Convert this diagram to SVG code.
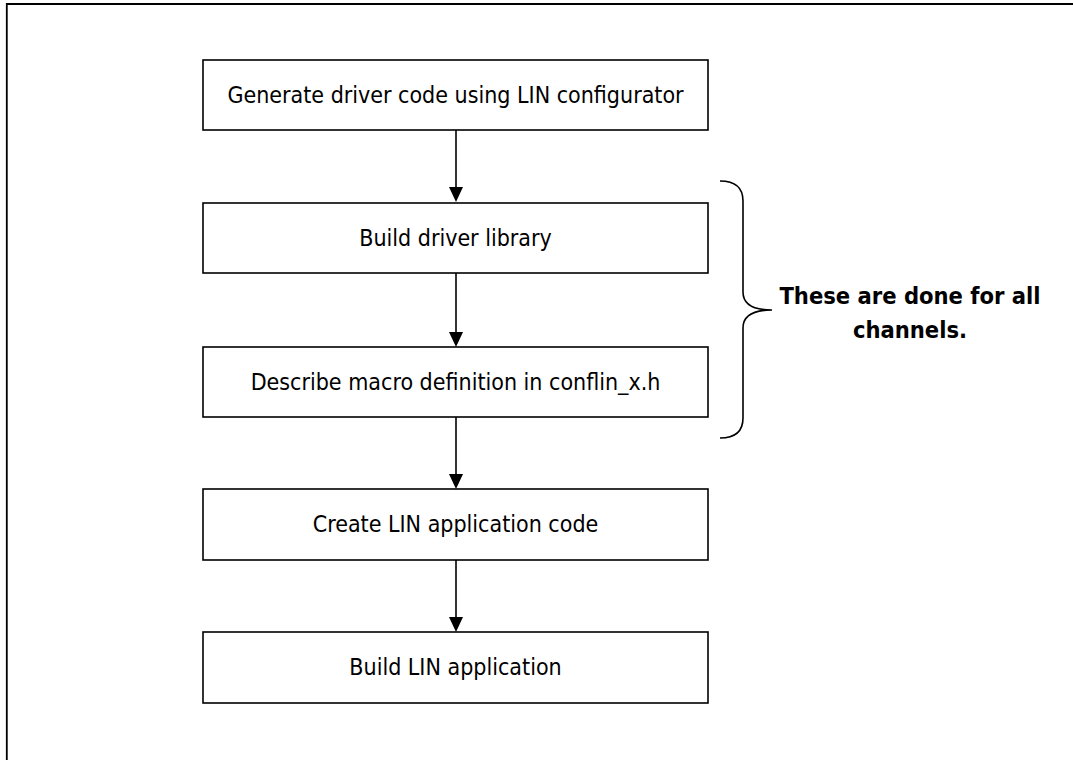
<svg xmlns="http://www.w3.org/2000/svg" width="1073" height="760" viewBox="0 0 1073 760">
<defs>
<style>
.box{fill:#fff;stroke:#000;stroke-width:1.6}
.lbl{font-family:"DejaVu Sans Condensed","DejaVu Sans",sans-serif;font-size:23px;fill:#000;text-anchor:middle}
.note{font-family:"DejaVu Sans Condensed","DejaVu Sans",sans-serif;font-size:23.5px;font-weight:bold;fill:#000;text-anchor:middle}
.edge{stroke:#000;stroke-width:1.6;fill:none}
</style>
</defs>
<rect width="1073" height="760" fill="#fff"/>
<path d="M6.8,760 V4 H1073" fill="none" stroke="#000" stroke-width="1.8"/>
<g id="n1"><rect class="box" x="203" y="60" width="505" height="70"/><text class="lbl" x="455.5" y="103">Generate driver code using LIN configurator</text></g>
<g id="n2"><rect class="box" x="203" y="203" width="505" height="70"/><text class="lbl" x="455.5" y="246">Build driver library</text></g>
<g id="n3"><rect class="box" x="203" y="347" width="505" height="70"/><text class="lbl" x="455.5" y="390">Describe macro definition in conflin_x.h</text></g>
<g id="n4"><rect class="box" x="203" y="489" width="505" height="71"/><text class="lbl" x="455.5" y="532">Create LIN application code</text></g>
<g id="n5"><rect class="box" x="203" y="632" width="505" height="71"/><text class="lbl" x="455.5" y="675">Build LIN application</text></g>
<g id="connectors">
<path class="edge" d="M456,130 V187" />
<path d="M449,187 L463,187 L456,202 Z"/>
<path class="edge" d="M456,273 V332" />
<path d="M449,332 L463,332 L456,347 Z"/>
<path class="edge" d="M456,417 V474" />
<path d="M449,474 L463,474 L456,489 Z"/>
<path class="edge" d="M456,560 V617" />
<path d="M449,617 L463,617 L456,632 Z"/>
</g>
<g id="brace">
<path class="edge" d="M720,181 C735,181 743,188 743,201 V292 C743,304 752,310 772,310 C752,310 743,316 743,328 V418 C743,431 735,438 720,438"/>
</g>
<g id="note">
<text class="note" x="910" y="304">These are done for all</text>
<text class="note" x="910" y="338">channels.</text>
</g>
</svg>
